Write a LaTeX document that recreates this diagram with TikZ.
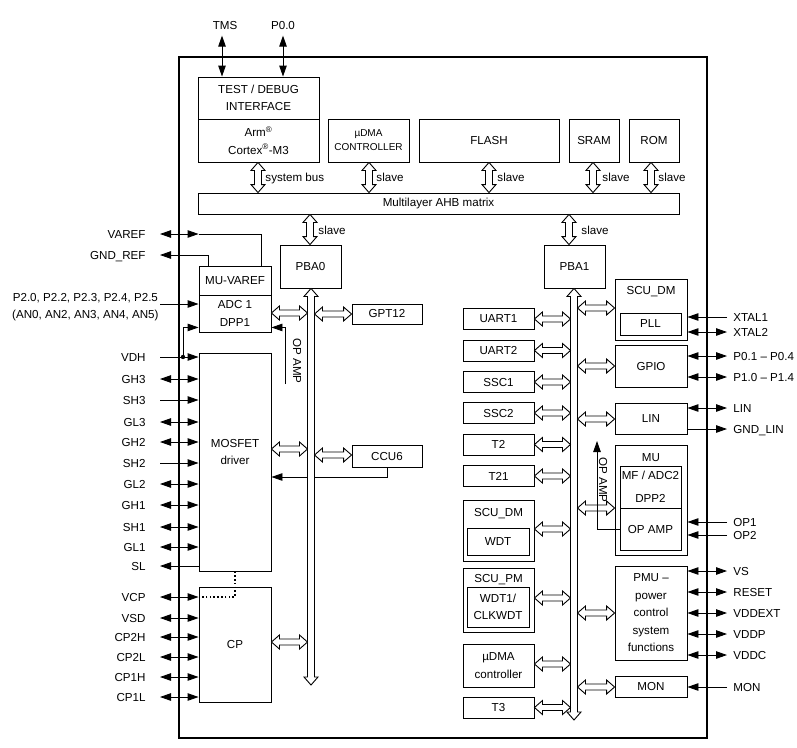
\documentclass[tikz,border=0pt]{standalone}
\usepackage{fontspec}
\setmainfont{Liberation Sans}
\usetikzlibrary{arrows.meta,calc}

% Flecha hueca horizontal de #1 a #2 a la altura #3
\newcommand{\flechah}[3]{%
  \draw[hueca] let \p1=(#1), \p2=(#2) in
    (\x1,-1pt*#3) -- ++(8pt,7pt) -- ++(0pt,-4pt) -- (\x2-8pt,-1pt*#3+3pt)
    -- ++(0pt,4pt) -- (\x2,-1pt*#3) -- ++(-8pt,-7pt) -- ++(0pt,4pt)
    -- (\x1+8pt,-1pt*#3-3pt) -- ++(0pt,-4pt) -- cycle;}
% Flecha hueca vertical de #1 (arriba) a #2 (abajo) en x=#3
\newcommand{\flechav}[3]{%
  \draw[hueca] let \p1=(#1), \p2=(#2) in
    (1pt*#3,\y1) -- ++(7pt,-8pt) -- ++(-3.5pt,0pt) -- (1pt*#3+3.5pt,\y2+8pt)
    -- ++(3.5pt,0pt) -- (1pt*#3,\y2) -- ++(-7pt,8pt) -- ++(3.5pt,0pt)
    -- (1pt*#3-3.5pt,\y1-8pt) -- ++(-3.5pt,0pt) -- cycle;}

\begin{document}
\begin{tikzpicture}[x=1pt, y=-1pt, line width=0.9pt,
  >={Triangle[length=11pt,width=7.5pt]},
  every node/.style={font=\fontsize{11.6}{17.5}\selectfont}]
% Estilos
\tikzstyle{caja} = [draw, inner sep=0pt, align=center]
\tikzstyle{tit} = [inner sep=0pt, text height=8.3pt, text depth=0pt]
\tikzstyle{etiq} = [tit, anchor=west]
\tikzstyle{pinl} = [tit, anchor=east, inner xsep=14pt]
\tikzstyle{pinr} = [tit, anchor=west, inner xsep=6pt]
\tikzstyle{hueca} = [fill=white, line width=0.9pt]

\useasboundingbox (0,0) rectangle (797,747);

% Borde del chip
\draw[line width=1.4pt] (179,57) rectangle (707,738);

% Bloques superiores
\node[caja, minimum width=121pt, minimum height=42pt] (test) at (258.5,98) {TEST / DEBUG\\INTERFACE};
\node[caja, minimum width=121pt, minimum height=43pt] (cpu) at (258.5,140.5) {Arm\textsuperscript{®}\\Cortex\textsuperscript{®}-M3};
\node[caja, minimum width=81pt, minimum height=43pt, font=\fontsize{10}{14}\selectfont] (udma) at (368.5,140.5) {µDMA\\CONTROLLER};
\node[caja, minimum width=140pt, minimum height=43pt] (flash) at (489,140.5) {FLASH};
\node[caja, minimum width=50pt, minimum height=43pt] (sram) at (594,140.5) {SRAM};
\node[caja, minimum width=50pt, minimum height=43pt] (rom) at (654,140.5) {ROM};
\node[caja, minimum width=481pt, minimum height=21pt] (ahb) at (438.5,203.5) {Multilayer AHB matrix};
\node[caja, minimum width=61pt, minimum height=43pt] (pba0) at (310.5,266.5) {PBA0};
\node[caja, minimum width=61pt, minimum height=43pt] (pba1) at (574.5,266.5) {PBA1};

% TMS y P0.0
\node[tit] (tms) at (225,25) {TMS};
\node[tit] (p00) at (283,25) {P0.0};
\draw[<->] ([xshift=-3pt,yshift=-6pt]tms.south) -- ([xshift=-3pt]tms.south |- test.north);
\draw[<->] ([yshift=-6pt]p00.south) -- (p00.south |- test.north);

% Buses del AHB
\flechav{cpu.south}{ahb.north}{258}
\flechav{udma.south}{ahb.north}{369}
\flechav{flash.south}{ahb.north}{489}
\flechav{sram.south}{ahb.north}{593}
\flechav{rom.south}{ahb.north}{651}
\flechav{ahb.south}{pba0.north}{310}
\flechav{ahb.south}{pba1.north}{569}
\node[etiq] (sysbus) at (265,177) {system bus};
\node[etiq] (sl1) at (376,177) {slave};
\node[etiq] (sl2) at (497,177) {slave};
\node[etiq] (sl3) at (602,177) {slave};
\node[etiq] (sl4) at (658,177) {slave};
\node[etiq] (sl5) at (318,230) {slave};
\node[etiq] (sl6) at (581,230) {slave};

% Lado izquierdo: MU-VAREF, ADC, MOSFET, CP
\node[caja, minimum width=72pt, minimum height=29pt] (muvaref) at (235,280.5) {MU-VAREF};
\node[caja, minimum width=72pt, minimum height=37pt] (adc1) at (235,313.5) {ADC 1\\DPP1};
\node[caja, minimum width=70pt, minimum height=20pt] (gpt12) at (387,314) {GPT12};
\node[caja, minimum width=72pt, minimum height=218pt] (mosfet) at (235,462) {};
\node[align=center] (mosfettxt) at (235,452) {MOSFET\\driver};
\node[caja, minimum width=70pt, minimum height=22pt] (ccu6) at (387,456) {CCU6};
\node[caja, minimum width=72pt, minimum height=115pt] (cp) at (235,644.5) {CP};

\node[pinl] (varef) at (160,234) {VAREF};
\node[pinl] (gndref) at (160,255) {GND\_REF};
\draw[<->] (varef.east) -- (varef.east -| muvaref.west);
\draw (varef.east -| muvaref.west) -| ([xshift=-10pt]muvaref.north east);
\draw[<-] (gndref.east) -| ([xshift=10pt]muvaref.north west);

\node[anchor=east, align=center, inner xsep=1pt] (p2) at (160,307) {P2.0, P2.2, P2.3, P2.4, P2.5\\(AN0, AN2, AN3, AN4, AN5)};
\draw[->] ([yshift=3pt]p2.east) -- ([yshift=3pt]p2.east -| adc1.west);

\node[pinl] (vdh) at (160,357) {VDH};
\draw[->] (vdh.east) -- (vdh.east -| mosfet.west);
\coordinate (vdhpunto) at (183,357);
\fill (vdhpunto) circle (2.2pt);
\draw[->] (vdhpunto) |- ([yshift=5pt]adc1.south west);

\foreach \nombre/\pos/\flecha in {GH3/379/<->, SH3/400/->, GL3/422/<->, GH2/442/<->, SH2/463/->, GL2/484/<->, GH1/505/<->, SH1/527/<->, GL1/547/<->, SL/566/<-}{
  \node[pinl] (l\pos) at (160,\pos) {\nombre};
  \draw[\flecha] (l\pos.east) -- (l\pos.east -| mosfet.west);
}
\foreach \nombre/\pos in {VCP/597, VSD/618, CP2H/637, CP2L/657, CP1H/677, CP1L/697}{
  \node[pinl] (l\pos) at (160,\pos) {\nombre};
  \draw[<->] (l\pos.east) -- (l\pos.east -| cp.west);
}
\draw[line width=1.6pt, dash pattern=on 1.6pt off 2.2pt] (mosfet.south) |- (l597.east -| cp.west);

\coordinate (opamp0) at (285,384);
\draw[->] (opamp0) |- ([yshift=5pt]adc1.south east);
\node[rotate=-90] (opamptxt0) at (297,361) {OP AMP};
\coordinate (ccu6esq) at (387,477);
\draw[->] (ccu6.south) |- (ccu6esq -| mosfet.east);

% Bus PBA0
\coordinate (b0w) at (307.5,300);
\coordinate (b0e) at (314.5,300);
\coordinate (bus0fin) at (311,685);
\flechav{pba0.south}{bus0fin}{311}
\flechah{adc1.east}{b0w}{313}
\flechah{b0e}{gpt12.west}{314}
\flechah{mosfet.east}{b0w}{449}
\flechah{b0e}{ccu6.west}{455}
\flechah{cp.east}{b0w}{642}

% Bus PBA1
\coordinate (b1w) at (570.5,300);
\coordinate (b1e) at (577.5,300);
\coordinate (bus1fin) at (574,720);
\flechav{pba1.south}{bus1fin}{574}

\foreach \nombre/\pos in {UART1/319, UART2/350.5, SSC1/382, SSC2/413, T2/444.5, T21/476, T3/707.5}{
  \node[caja, minimum width=71pt, minimum height=21pt] (m\nombre) at (498.5,\pos) {\nombre};
  \flechah{m\nombre.east}{b1w}{\pos}
}
\node[caja, minimum width=71pt, minimum height=61pt] (scudm0) at (498.5,530.5) {};
\node[tit] (scudm0txt) at (498.5,512) {SCU\_DM};
\node[caja, minimum width=62pt, minimum height=27pt] (wdt) at (498,541.5) {WDT};
\node[caja, minimum width=71pt, minimum height=64pt] (scupm) at (498.5,600) {};
\node[tit] (scupmtxt) at (498.5,578) {SCU\_PM};
\node[caja, minimum width=62pt, minimum height=40pt] (wdt1) at (498,607) {WDT1/\\CLKWDT};
\node[caja, minimum width=71pt, minimum height=43pt] (udmac) at (498.5,665.5) {µDMA\\controller};
\flechah{scudm0.east}{b1w}{529}
\flechah{scupm.east}{b1w}{598}
\flechah{udmac.east}{b1w}{664}

% Lado derecho
\node[caja, minimum width=72pt, minimum height=61pt] (scudm) at (651,309.5) {};
\node[tit] (scudmtxt) at (651,290) {SCU\_DM};
\node[caja, minimum width=61pt, minimum height=22pt] (pll) at (650.5,324) {PLL};
\node[caja, minimum width=72pt, minimum height=42pt] (gpio) at (651,366) {GPIO};
\node[caja, minimum width=72pt, minimum height=31pt] (lin) at (651,418.5) {LIN};
\node[caja, minimum width=72pt, minimum height=110pt] (mu) at (651,500) {};
\node[tit] (mutxt) at (651,457) {MU};
\node[caja, minimum width=61pt, minimum height=42pt, font=\fontsize{11.6}{22.5}\selectfont] (mfadc) at (650.5,487) {MF / ADC2\\DPP2};
\node[caja, minimum width=61pt, minimum height=42pt] (opamp) at (650.5,529) {OP AMP};
\node[caja, minimum width=72pt, minimum height=94pt] (pmu) at (651,613) {PMU –\\power\\control\\system\\functions};
\node[caja, minimum width=72pt, minimum height=21pt] (mon) at (651,686.5) {MON};
\flechah{b1e}{scudm.west}{308}
\flechah{b1e}{gpio.west}{366}
\flechah{b1e}{lin.west}{419}
\flechah{b1e}{mu.west}{508}
\flechah{b1e}{pmu.west}{613}
\flechah{b1e}{mon.west}{687}

\coordinate (opamp1) at (597,441);
\draw[->] (opamp.west) -| (opamp1);
\node[rotate=-90] (opamptxt1) at (603,480) {OP AMP};

\foreach \nombre/\pos/\flecha/\bloque in {XTAL1/317/->/scudm, XTAL2/332/<->/scudm, P0.1 – P0.4/356/<->/gpio, P1.0 – P1.4/377/<->/gpio, LIN/408/<->/lin, GND\_LIN/429/<-/lin, OP1/522/->/mu, OP2/535/->/mu, VS/571/<->/pmu, RESET/592/<->/pmu, VDDEXT/613/<->/pmu, VDDP/634/<->/pmu, VDDC/655/<->/pmu, MON/687/->/mon}{
  \node[pinr] (r\pos) at (727,\pos) {\nombre};
  \draw[\flecha] (r\pos.west) -- (r\pos.west -| \bloque.east);
}
\end{tikzpicture}
\end{document}
